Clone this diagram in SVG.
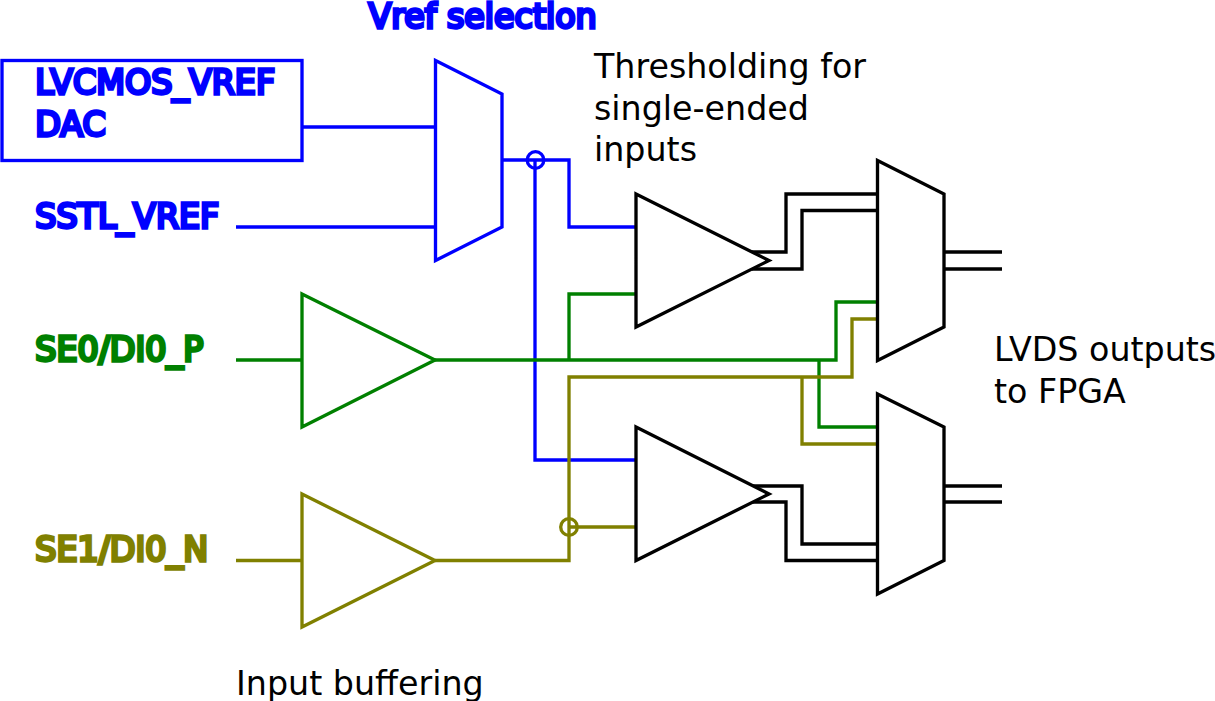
<svg xmlns="http://www.w3.org/2000/svg" width="1215" height="701" viewBox="0 0 1215 701">
<style>
text{font-family:"DejaVu Sans",sans-serif;font-size:33.3px;fill:#000}
.b{stroke-width:3.33;stroke-linejoin:miter}
.tb{fill:#00f;stroke:#00f}.tg{fill:#008000;stroke:#008000}.to{fill:#808000;stroke:#808000}
.sh{fill:#fff;stroke-width:3.33;stroke-linejoin:miter;stroke-miterlimit:10}
.w{fill:none;stroke-width:3.33;stroke-linejoin:miter}
.blue{stroke:#00f}.green{stroke:#008000}.olive{stroke:#808000}.black{stroke:#000}
</style>
<rect width="1215" height="701" fill="#fff"/>
<g id="connectors">
<path class="w blue" d="M302 127H435M236 227H435M502 160H569V227H636M535 160V460H636"/>
<circle class="w blue" cx="535.500" cy="160" r="8.300"/>
<path class="w green" d="M236 360H302M435 360H836V302H877M569 360V294H636M819 360V427H877"/>
<path class="w olive" d="M236 560.500H302M435 560.500H569V377H852V319H877M802 377V444H877M569 527H636"/>
<circle class="w olive" cx="569" cy="527" r="8.300"/>
<path class="w black" d="M752 252H786V194H877M752 269H802V210.500H877M944 252H1002M944 269H1002M752 486H802V544H877M752 502H786V560.500H877M944 486H1002M944 502H1002"/>
</g>
<g id="dac"><rect class="w blue" x="2" y="60.500" width="300" height="100"/>
<text class="b tb" x="35.300" y="94">LVCMOS_VREF</text>
<text class="b tb" x="35.300" y="135.500">DAC</text></g>
<g id="vref-selection-label"><text class="b tb" x="368.500" y="27.500">Vref selection</text></g>
<g id="sstl-label"><text class="b tb" x="35.300" y="227.500">SSTL_VREF</text></g>
<g id="se0-label"><text class="b tg" x="35.300" y="360.500">SE0/DI0_P</text></g>
<g id="se1-label"><text class="b to" x="35.300" y="560.500">SE1/DI0_N</text></g>
<g id="vref-mux"><path class="sh blue" d="M435.500 60.500L502 94V227L435.500 260.500Z"/></g>
<g id="buf-se0"><path class="sh green" d="M302 294L435 360L302 427Z"/></g>
<g id="buf-se1"><path class="sh olive" d="M302 494L435 560.500L302 627Z"/></g>
<g id="comp-top"><path class="sh black" d="M636 194L769 260.500L636 327Z"/></g>
<g id="comp-bottom"><path class="sh black" d="M636 427L769 494L636 560.500Z"/></g>
<g id="mux-top"><path class="sh black" d="M877.500 160.500L944 194V327L877.500 360.500Z"/></g>
<g id="mux-bottom"><path class="sh black" d="M877.500 394L944 427V560.500L877.500 594Z"/></g>
<g id="threshold-label"><text x="594" y="78">Thresholding for</text><text x="594" y="119.500">single-ended</text><text x="594" y="161">inputs</text></g>
<g id="lvds-label"><text x="994" y="361">LVDS outputs</text><text x="994" y="402.500">to FPGA</text></g>
<g id="input-buffering-label"><text x="236" y="694.500">Input buffering</text></g>
</svg>
